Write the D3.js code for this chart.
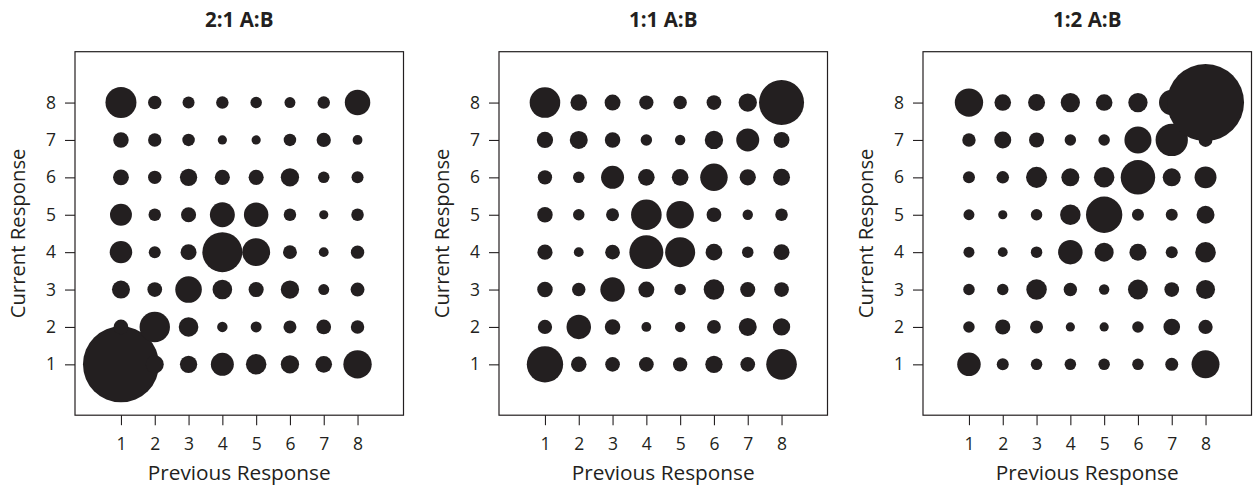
<!DOCTYPE html>
<html>
<head>
<meta charset="utf-8">
<script src="https://cdn.jsdelivr.net/npm/d3@7"></script>
<style>
body { margin: 0; background: #fff; }
text { font-family: "Open Sans", sans-serif; fill: #231f20; }
</style>
</head>
<body>
<svg id="chart" width="1257" height="492"></svg>
<script>
var titles = ["2:1 A:B", "1:1 A:B", "1:2 A:B"];
var responses = [1, 2, 3, 4, 5, 6, 7, 8];
// counts[current - 1][previous - 1]
var counts21 = [
  [481, 27, 25, 44, 35, 28, 23, 67],
  [18, 77, 32, 9, 10, 14, 18, 15],
  [27, 18, 59, 32, 19, 28, 10, 16],
  [42, 12, 21, 133, 65, 16, 8, 15],
  [40, 13, 19, 52, 50, 13, 7, 13],
  [21, 15, 25, 19, 19, 28, 11, 12],
  [20, 15, 13, 7, 7, 13, 17, 8],
  [80, 15, 12, 13, 11, 10, 13, 54]
];
var counts11 = [
  [110, 20, 18, 18, 17, 25, 18, 78],
  [17, 50, 20, 8, 9, 16, 27, 25],
  [20, 15, 50, 21, 11, 35, 19, 18],
  [19, 8, 18, 96, 75, 23, 11, 21],
  [20, 11, 14, 78, 63, 18, 9, 13],
  [17, 11, 44, 23, 23, 63, 22, 24],
  [22, 27, 20, 11, 9, 28, 44, 21],
  [78, 23, 21, 17, 15, 18, 28, 169]
];
var counts12 = [
  [46, 12, 11, 11, 11, 11, 14, 65],
  [11, 19, 14, 7, 7, 11, 23, 17],
  [11, 11, 35, 15, 9, 33, 18, 30],
  [10, 8, 11, 50, 30, 24, 12, 35],
  [10, 7, 11, 35, 110, 12, 12, 27],
  [12, 13, 37, 27, 35, 99, 27, 40],
  [15, 24, 19, 11, 11, 61, 87, 16],
  [67, 23, 24, 31, 23, 31, 54, 494]
];
var panels = [counts21, counts11, counts12];

var svg, ink, boxTop, boxW, boxH, maxCount, rScale, yScale, flatten;
svg = d3.select('#chart');
ink = '#231f20';
boxTop = 51.7;
boxW = 328.5;
boxH = 363.5;
maxCount = d3.max(panels, function(p){
  return d3.max(p, function(row){ return d3.max(row); });
});
rScale = d3.scaleSqrt().domain([0, maxCount]).range([0, 38.5]);
yScale = d3.scaleLinear().domain([-0.36, 9.36]).range([boxTop + boxH, boxTop]);

flatten = function(m){
  var out = [];
  m.forEach(function(row, i){
    row.forEach(function(v, j){
      out.push({prev: responses[j], cur: responses[i], n: v});
    });
  });
  return out;
};

panels.forEach(function(m, k){
  var left, xScale, g, xAxis, yAxis;
  left = 75 + k * 424;
  xScale = d3.scaleLinear().domain([-0.36, 9.36]).range([left, left + boxW]);
  g = svg.append('g').attr('class', 'panel');

  g.append('text')
    .attr('x', left + boxW / 2).attr('y', 27)
    .attr('text-anchor', 'middle')
    .attr('font-size', 20.5).attr('font-weight', 'bold')
    .text(titles[k]);

  g.selectAll('circle.dot').data(flatten(m)).enter().append('circle')
    .attr('class', 'dot')
    .attr('cx', function(d){ return xScale(d.prev); })
    .attr('cy', function(d){ return yScale(d.cur); })
    .attr('r', function(d){ return rScale(d.n); })
    .attr('fill', ink);

  g.append('rect')
    .attr('x', left).attr('y', boxTop).attr('width', boxW).attr('height', boxH)
    .attr('fill', 'none').attr('stroke', ink).attr('stroke-width', 1.2);

  xAxis = g.append('g')
    .attr('transform', 'translate(0,' + (boxTop + boxH) + ')')
    .call(d3.axisBottom(xScale).tickValues(responses).tickSize(10).tickPadding(12));
  yAxis = g.append('g')
    .attr('transform', 'translate(' + left + ',0)')
    .call(d3.axisLeft(yScale).tickValues(responses).tickSize(10).tickPadding(9));
  [xAxis, yAxis].forEach(function(a){
    a.select('.domain').remove();
    a.selectAll('line').attr('stroke', ink).attr('stroke-width', 1.1);
    a.selectAll('text').attr('font-size', 17.5).attr('fill', ink)
      .style('font-family', '"Open Sans", sans-serif');
  });

  g.append('text')
    .attr('x', left + boxW / 2).attr('y', 480)
    .attr('text-anchor', 'middle')
    .attr('font-size', 20.8)
    .text('Previous Response');
  g.append('text')
    .attr('transform', 'translate(' + (left - 50) + ',' + (boxTop + boxH / 2) + ') rotate(-90)')
    .attr('text-anchor', 'middle')
    .attr('font-size', 20.3)
    .text('Current Response');
});
</script>
</body>
</html>
